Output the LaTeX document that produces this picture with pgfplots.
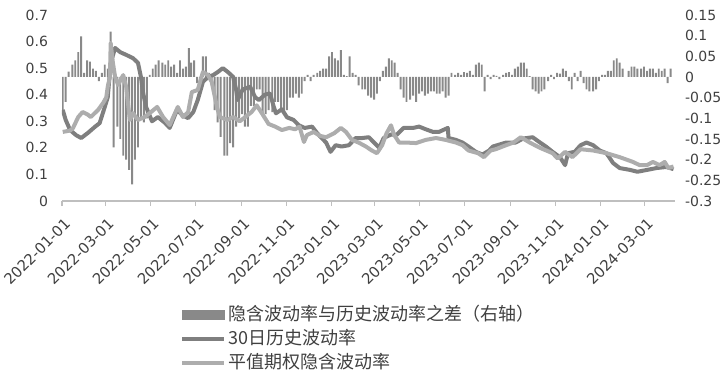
\documentclass[border=0pt]{standalone}
\usepackage{fontspec}
\setmainfont{DejaVu Sans}
\newfontfamily\cjk{Noto Sans CJK SC}
\usepackage{pgfplots}
\pgfplotsset{compat=1.18}
\definecolor{barcol}{HTML}{898989}
\definecolor{hvcol}{HTML}{7F7F7F}
\definecolor{ivcol}{HTML}{ADADAD}
\definecolor{axcol}{HTML}{BFBFBF}
\definecolor{txtcol}{HTML}{404040}
\begin{document}
\begin{tikzpicture}
\path[use as bounding box] (0,0) rectangle (363.5pt,190pt);
% right axis: difference bars
\begin{axis}[
  at={(31pt,89.5pt)}, anchor=south west,
  scale only axis, width=306.5pt, height=93pt,
  xmin=0, xmax=831, ymin=-0.3, ymax=0.15,
  enlargelimits=false,
  axis x line=none, axis y line*=right,
  y axis line style={draw=none},
  ytick={-0.3,-0.25,-0.2,-0.15,-0.1,-0.05,0,0.05,0.1,0.15},
  yticklabels={-0.3,-0.25,-0.2,-0.15,-0.1,-0.05,0,0.05,0.1,0.15},
  ytick style={draw=none},
  yticklabel style={font=\fontsize{7}{8}\selectfont, text=txtcol, anchor=west, xshift=1.5pt},
  ybar, bar width=2.6,
]
\addplot[fill=barcol, draw=none] coordinates {
(1,-0.08) (5,-0.06) (9,0.013) (14,0.03) (18,0.04) (22,0.06) (26,0.098) (30,0.01) (34,0.04) (38,0.037)
(42,0.02) (46,0.015) (50,-0.01) (54,0.01) (58,0.03) (62,0.02) (66,0.11) (70,-0.17) (75,-0.12) (79,-0.15)
(83,-0.19) (87,-0.2) (91,-0.225) (95,-0.26) (99,-0.2) (103,-0.17) (107,-0.1) (111,-0.11) (115,-0.1) (119,0.005)
(123,0.02) (127,0.03) (131,0.04) (136,0.035) (140,0.03) (144,0.04) (148,0.025) (152,0.03) (156,0.01) (160,0.04)
(164,0.02) (168,0.025) (172,0.07) (175,0.035) (179,0.04) (183,-0.015) (187,-0.01) (191,0.05) (195,0.05) (199,0.01)
(203,-0.02) (207,-0.08) (211,-0.11) (215,-0.145) (220,-0.19) (224,-0.19) (228,-0.16) (232,-0.17) (236,-0.12) (240,-0.1)
(244,-0.09) (248,-0.12) (252,-0.12) (256,-0.07) (260,-0.07) (264,-0.03) (268,-0.03) (272,-0.09) (276,-0.09) (280,-0.08)
(285,-0.085) (289,-0.06) (293,-0.06) (297,-0.08) (301,-0.085) (305,-0.08) (309,-0.05) (313,-0.05) (317,-0.04) (321,-0.05)
(325,-0.04) (329,-0.01) (333,0.005) (337,-0.01) (341,0.005) (346,0.01) (350,0.015) (354,0.02) (358,0.02) (362,0.05)
(366,0.06) (370,0.045) (374,0.04) (378,0.065) (382,0.005) (386,0.002) (390,0.05) (394,0.01) (398,0.005) (402,-0.02)
(407,-0.03) (411,-0.03) (415,-0.045) (419,-0.05) (423,-0.055) (427,-0.04) (431,-0.01) (435,0.015) (439,0.025) (443,0.045)
(447,0.04) (451,0.035) (455,0.01) (459,-0.03) (463,-0.05) (467,-0.06) (472,-0.055) (476,-0.045) (480,-0.06) (484,-0.04)
(488,-0.035) (492,-0.045) (496,-0.04) (500,-0.035) (504,-0.035) (508,-0.04) (512,-0.04) (516,-0.035) (520,-0.05) (524,-0.045)
(528,0.01) (533,0.005) (537,0.01) (541,0.005) (545,0.012) (549,0.01) (553,0.015) (557,0.005) (561,0.03) (565,0.035)
(569,0.03) (573,-0.035) (577,0.005) (581,-0.005) (585,0.005) (589,0.003) (593,-0.005) (598,0.005) (602,0.01) (606,0.012)
(610,0.005) (614,0.02) (618,0.025) (622,0.035) (626,0.035) (630,0.02) (634,0.002) (638,-0.03) (642,-0.035) (646,-0.04)
(650,-0.035) (654,-0.03) (659,-0.01) (663,0.005) (667,-0.005) (671,0.01) (675,0.008) (679,0.02) (683,0.015) (687,-0.01)
(691,-0.03) (695,0.01) (699,-0.01) (703,0.015) (707,-0.015) (711,-0.03) (715,-0.035) (720,-0.035) (724,-0.03) (728,-0.01)
(732,0.005) (736,0.005) (740,0.015) (744,0.015) (748,0.04) (752,0.045) (756,0.035) (760,0.02) (768,0.015) (772,0.025)
(776,0.025) (780,0.02) (785,0.02) (789,0.025) (793,0.015) (797,0.02) (801,0.02) (805,0.01) (809,0.02) (813,0.015)
(817,0.02) (821,-0.015) (825,0.02)
};
\end{axis}
% left axis: volatility lines
\begin{axis}[
  at={(31pt,89.5pt)}, anchor=south west,
  scale only axis, width=306.5pt, height=93pt,
  xmin=0, xmax=831, ymin=0, ymax=0.7,
  enlargelimits=false,
  axis x line*=bottom, axis y line*=left,
  x axis line style={draw=axcol, line width=0.75pt, -},
  y axis line style={draw=none},
  xtick={0,59,120,181,243,304,365,424,485,546,608,669,730,790},
  xticklabels={2022-01-01,2022-03-01,2022-05-01,2022-07-01,2022-09-01,2022-11-01,2023-01-01,2023-03-01,2023-05-01,2023-07-01,2023-09-01,2023-11-01,2024-01-01,2024-03-01},
  xtick style={draw=axcol, line width=0.6pt},
  xtick align=outside, major tick length=2.5pt,
  xticklabel style={font=\fontsize{7.4}{8}\selectfont, text=txtcol, rotate=45, anchor=north east, yshift=-1pt},
  ytick={0,0.1,0.2,0.3,0.4,0.5,0.6,0.7},
  yticklabels={0,0.1,0.2,0.3,0.4,0.5,0.6,0.7},
  ytick style={draw=none},
  yticklabel style={font=\fontsize{7}{8}\selectfont, text=txtcol, anchor=east, xshift=-3.5pt},
  legend cell align=left,
  legend style={at={(axis description cs:0.1925,-0.55)}, anchor=north west, draw=none, fill=none,
    font=\cjk\fontsize{9}{10}\selectfont, text=txtcol, row sep=0.6pt, inner sep=0pt,
    nodes={inner sep=1pt, text height=7.6pt, text depth=1.8pt}},
  legend image code/.code={\draw[#1] (0pt,0pt) -- (21pt,0pt);},
]
\addlegendimage{legend image code/.code={\fill[barcol] (0pt,-2.2pt) rectangle (21pt,2.2pt);}}
\addlegendentry{隐含波动率与历史波动率之差（右轴）}
\addplot[hvcol, line width=2pt, line join=round, no markers] coordinates {
(1,0.343) (5,0.305) (11,0.267) (19,0.248) (26,0.237) (35,0.256) (45,0.28) (51,0.293) (58,0.354) (62,0.39)
(66,0.52) (72,0.576) (79,0.56) (87,0.55) (96,0.538) (103,0.52) (107,0.467) (110,0.406) (114,0.354) (122,0.30)
(130,0.316) (140,0.293) (146,0.275) (156,0.343) (163,0.323) (171,0.312) (178,0.335) (184,0.38) (191,0.448) (198,0.467)
(205,0.474) (211,0.485) (218,0.50) (225,0.485) (232,0.467) (236,0.42) (238,0.38) (245,0.42) (255,0.43) (262,0.39)
(267,0.38) (275,0.40) (282,0.405) (287,0.355) (290,0.33) (298,0.345) (305,0.315) (314,0.305) (321,0.285) (329,0.275)
(339,0.28) (346,0.255) (352,0.237) (358,0.22) (364,0.185) (371,0.21) (379,0.205) (389,0.21) (398,0.237) (407,0.237)
(416,0.24) (423,0.22) (430,0.20) (436,0.237) (446,0.25) (454,0.25) (463,0.275) (470,0.275) (476,0.275) (484,0.28)
(493,0.27) (503,0.26) (511,0.26) (523,0.275) (524,0.237) (534,0.23) (543,0.22) (551,0.205) (561,0.185) (570,0.175)
(579,0.19) (584,0.205) (602,0.22) (615,0.22) (625,0.235) (638,0.24) (648,0.22) (656,0.205) (665,0.185) (675,0.165)
(682,0.135) (686,0.18) (695,0.185) (703,0.21) (711,0.22) (720,0.21) (729,0.19) (738,0.18) (747,0.143) (756,0.124)
(770,0.117) (780,0.11) (793,0.117) (806,0.124) (819,0.128) (829,0.12)
};
\addlegendentry{30日历史波动率}
\addplot[ivcol, line width=2pt, line join=round, no markers] coordinates {
(1,0.26) (11,0.265) (15,0.275) (22,0.316) (28,0.335) (35,0.325) (39,0.316) (49,0.343) (56,0.37) (60,0.39)
(62,0.43) (65,0.467) (66,0.595) (69,0.52) (72,0.467) (76,0.437) (83,0.474) (87,0.43) (92,0.305) (96,0.331)
(103,0.305) (112,0.316) (119,0.331) (129,0.354) (137,0.316) (146,0.286) (157,0.354) (164,0.316) (171,0.335) (176,0.41)
(184,0.418) (191,0.485) (198,0.474) (203,0.448) (210,0.354) (214,0.316) (224,0.305) (232,0.316) (241,0.30) (248,0.315)
(257,0.335) (264,0.36) (271,0.33) (280,0.29) (289,0.28) (298,0.267) (308,0.275) (316,0.27) (322,0.28) (328,0.222)
(332,0.248) (341,0.26) (350,0.245) (358,0.24) (369,0.255) (378,0.275) (385,0.26) (393,0.23) (402,0.22) (412,0.205)
(420,0.19) (427,0.18) (434,0.21) (440,0.255) (446,0.285) (450,0.25) (457,0.22) (466,0.22) (480,0.218) (493,0.23)
(507,0.237) (520,0.23) (534,0.22) (543,0.21) (551,0.19) (564,0.18) (572,0.165) (581,0.19) (588,0.195) (602,0.21)
(612,0.22) (622,0.24) (634,0.22) (648,0.20) (665,0.18) (672,0.16) (682,0.185) (692,0.165) (703,0.195) (720,0.19)
(738,0.18) (756,0.165) (774,0.147) (783,0.135) (793,0.135) (801,0.147) (810,0.135) (817,0.147) (822,0.124) (829,0.13)
};
\addlegendentry{平值期权隐含波动率}
\end{axis}
\end{tikzpicture}
\end{document}
